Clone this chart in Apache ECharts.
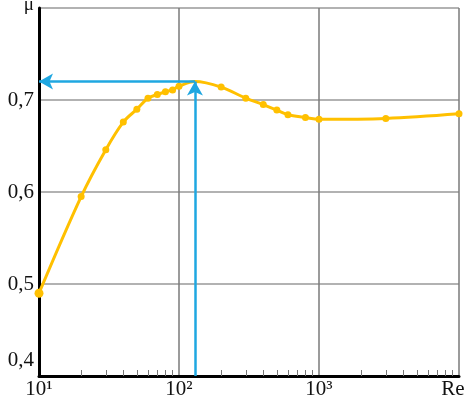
<!DOCTYPE html>
<html>
<head>
<meta charset="utf-8">
<script src="https://cdn.jsdelivr.net/npm/echarts@6/dist/echarts.min.js"></script>
<style>html,body{margin:0;padding:0;background:#fff}#c{width:466px;height:405px}</style>
</head>
<body>
<div id="c"></div>
<script>
const reValues = [10, 20, 30, 40, 50, 60, 70, 80, 90, 100, 130, 200, 300, 400, 500, 600, 800, 1000, 3000, 10000];
const muValues = [0.49, 0.595, 0.646, 0.676, 0.69, 0.702, 0.706, 0.709, 0.711, 0.715, 0.72, 0.714, 0.702, 0.695, 0.689, 0.684, 0.681, 0.679, 0.68, 0.685];
const xTickLabels = {1: '10\u00B9', 2: '10\u00B2', 3: '10\u00B3', 4: 'Re'};
const yTopLabel = '\u03BC';
const peakRe = 130;
const peakMu = 0.72;
const minorTickValues = [];
[10, 100, 1000].forEach(d => { for (let k = 2; k <= 9; k++) minorTickValues.push(k * d); });

const chart = echarts.init(document.getElementById('c'), null, {renderer: 'canvas'});
const font = "'Liberation Serif', 'Times New Roman', serif";
const gridBox = {left: 39, right: 7, top: 8, bottom: 29, containLabel: false, outerBoundsMode: 'none'};
chart.setOption({
  animation: false,
  backgroundColor: '#fff',
  grid: [Object.assign({}, gridBox), Object.assign({}, gridBox)],
  xAxis: [{
    gridIndex: 0,
    type: 'log', logBase: 10, min: 10, max: 10000,
    axisLine: {show: true, lineStyle: {color: '#000', width: 3}},
    axisTick: {show: false},
    splitLine: {show: true, lineStyle: {color: '#7a7a7a', width: 1.5}},
    axisLabel: {
      margin: 3, color: '#111', fontFamily: font, fontSize: 21,
      formatter: v => {
        const e = Math.round(Math.log10(v));
        if (e === 4) return '{re|' + xTickLabels[e] + '}';
        return xTickLabels[e] || '';
      },
      rich: {re: {fontFamily: font, fontSize: 21, color: '#111', padding: [0, 12, 0, 0]}}
    }
  }, {
    // helper axis in log10 space (separate overlapping grid), only draws logarithmic minor ticks
    gridIndex: 1,
    type: 'value', min: 1, max: 4, position: 'bottom',
    axisLine: {show: false},
    axisLabel: {show: false},
    splitLine: {show: false},
    axisTick: {show: true, inside: true, length: 6, customValues: minorTickValues.map(v => Math.log10(v)), lineStyle: {color: '#777', width: 1}}
  }],
  yAxis: [{
    gridIndex: 0,
    type: 'value', min: 0.4, max: 0.8, interval: 0.1,
    axisLine: {show: true, lineStyle: {color: '#000', width: 3}},
    axisTick: {show: false},
    splitLine: {show: true, lineStyle: {color: '#999', width: 1.5}},
    axisLabel: {
      margin: 5, color: '#111', fontFamily: font, fontSize: 21,
      formatter: v => {
        const r = Math.round(v * 10) / 10;
        if (r >= 0.8) return '{mu|' + yTopLabel + '}';
        const s = r.toFixed(1).replace('.', ',');
        if (r <= 0.4) return '{low|' + s + '}';
        return s;
      },
      rich: {
        low: {fontFamily: font, fontSize: 21, color: '#111', padding: [0, 0, 32, 0]},
        mu: {fontFamily: font, fontSize: 19, color: '#111', padding: [0, 0, 6, 0]}
      }
    }
  }, {
    gridIndex: 1,
    type: 'value', min: 0, max: 1, show: false
  }],
  series: [{
    type: 'line',
    xAxisIndex: 0,
    yAxisIndex: 0,
    data: reValues.map((r, i) => ({value: [r, muValues[i]], symbol: r === peakRe ? 'none' : 'circle'})),
    smooth: 0.35,
    symbol: 'circle',
    symbolSize: (v, p) => p.dataIndex === 0 ? 9 : 7,
    lineStyle: {color: '#FFC000', width: 3},
    itemStyle: {color: '#FFC000'},
    z: 3,
    markLine: {
      silent: true,
      animation: false,
      label: {show: false},
      symbol: ['none', 'arrow'],
      symbolSize: [12, 14],
      lineStyle: {color: '#1FA7E1', width: 2.5, type: 'solid'},
      emphasis: {disabled: true},
      data: [
        [{coord: [peakRe, peakMu]}, {coord: [10, peakMu]}],
        [{coord: [peakRe, 0.4]}, {coord: [peakRe, peakMu]}]
      ]
    }
  }]
});
</script>
</body>
</html>
